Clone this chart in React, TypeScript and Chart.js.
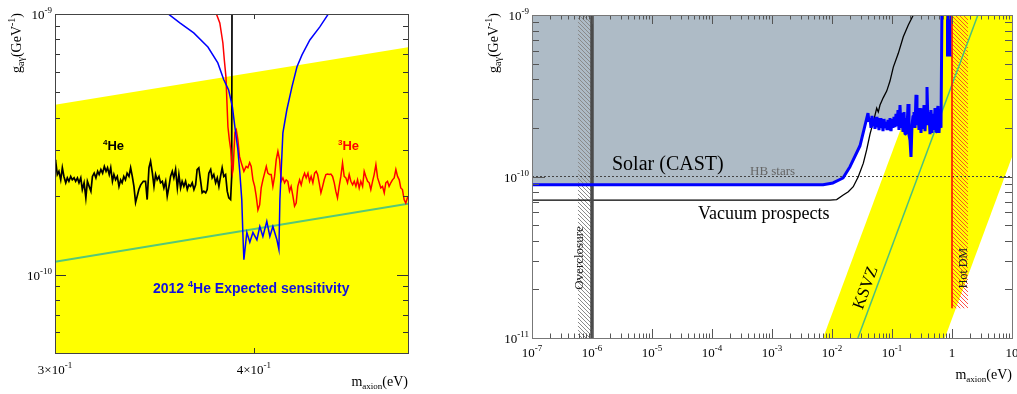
import React, { useEffect, useRef } from "react";
import { Chart, registerables } from "chart.js";

Chart.register(...registerables);

const W = 1017;
const H = 394;
const SERIF = "'Liberation Serif', 'Times New Roman', serif";
const SANS = "'Liberation Sans', Arial, sans-serif";

// ================= LEFT PANEL DATA =================
const leftMassRange = [0.3, 0.5]; // eV
const leftCouplingRange = [5e-11, 1e-9]; // GeV^-1

// [m_axion (eV), g (1e-10 GeV^-1)]
const he4Limit: number[][] = [
  [0.3, 2.76], [0.3003, 2.72], [0.301, 2.42], [0.3017, 2.49], [0.3025, 2.31], [0.3032, 2.57],
  [0.3039, 2.38], [0.3047, 2.25], [0.3054, 2.35], [0.3061, 2.28], [0.3069, 2.38], [0.3076, 2.31],
  [0.3084, 2.35], [0.3091, 2.28], [0.3099, 2.35], [0.3106, 2.25], [0.3114, 2.35], [0.3121, 2.12],
  [0.3129, 2.25], [0.3137, 1.97], [0.3144, 2.28], [0.3152, 2.18], [0.316, 2.09], [0.3167, 2.38],
  [0.3175, 2.45], [0.3183, 2.35], [0.3191, 2.49], [0.3198, 2.42], [0.3206, 2.53], [0.3214, 2.45],
  [0.3222, 2.6], [0.323, 2.49], [0.3237, 2.57], [0.3245, 2.42], [0.3252, 2.57], [0.326, 2.28],
  [0.3267, 2.42], [0.3275, 2.31], [0.3283, 2.38], [0.3291, 2.18], [0.3299, 2.31], [0.3306, 2.25],
  [0.3314, 2.38], [0.3322, 2.31], [0.333, 2.45], [0.3339, 2.38], [0.3347, 2.57], [0.3355, 2.38],
  [0.3363, 2.18], [0.3371, 1.89], [0.3379, 2.0], [0.3387, 2.12], [0.3396, 2.21], [0.3409, 2.28],
  [0.342, 2.28], [0.3428, 1.94], [0.3437, 2.57], [0.3445, 2.72], [0.3454, 2.45], [0.3462, 2.18],
  [0.347, 2.42], [0.3478, 2.31], [0.3487, 2.38], [0.3495, 2.25], [0.3504, 2.28], [0.3512, 2.15],
  [0.3521, 2.28], [0.3529, 2.0], [0.3538, 2.18], [0.3546, 2.38], [0.3555, 2.49], [0.3563, 2.35],
  [0.3572, 2.53], [0.3581, 2.15], [0.3589, 2.42], [0.3598, 2.15], [0.3606, 2.28], [0.3615, 2.18],
  [0.3624, 2.28], [0.3633, 2.12], [0.3641, 2.21], [0.365, 2.18], [0.3659, 2.25], [0.3668, 2.12],
  [0.3677, 2.21], [0.3685, 2.53], [0.3694, 2.57], [0.3704, 2.28], [0.3712, 2.06], [0.3721, 2.09],
  [0.3731, 2.06], [0.3739, 2.12], [0.3748, 2.45], [0.3758, 2.53], [0.3766, 2.35], [0.3775, 2.42],
  [0.3785, 2.25], [0.3794, 2.35], [0.3803, 2.18], [0.3812, 2.38], [0.3821, 2.57], [0.383, 2.38],
  [0.384, 2.42], [0.3849, 2.09], [0.3858, 1.97], [0.3868, 1.94], [0.3874, 2.38], [0.3876, 12],
];

const he3Limit: number[][] = [
  [0.3778, 10.5], [0.3808, 9.24], [0.3825, 7.74], [0.3833, 6.66], [0.3842, 5.74], [0.3847, 4.68],
  [0.3853, 3.69], [0.3861, 3.29], [0.3869, 3.01], [0.3878, 2.45], [0.3882, 2.53], [0.3892, 3.5],
  [0.39, 3.59], [0.3909, 3.29], [0.3918, 2.84], [0.3928, 2.69], [0.3943, 2.49], [0.3956, 2.6],
  [0.3966, 2.57], [0.3976, 2.69], [0.3985, 2.6], [0.3995, 2.31], [0.4005, 2.18], [0.4014, 2.0],
  [0.4024, 1.77], [0.4034, 1.85], [0.4043, 2.15], [0.4053, 2.31], [0.4063, 2.45], [0.4073, 2.6],
  [0.4082, 2.45], [0.4092, 2.42], [0.4102, 2.42], [0.4112, 2.18], [0.4122, 2.38], [0.4132, 2.76],
  [0.4142, 2.97], [0.4152, 2.76], [0.4162, 2.28], [0.4172, 2.35], [0.4182, 2.25], [0.4192, 2.31],
  [0.4202, 2.28], [0.4212, 2.09], [0.4222, 2.18], [0.4233, 2.0], [0.4243, 1.83], [0.4253, 1.88],
  [0.4263, 2.18], [0.4274, 2.31], [0.4284, 2.21], [0.4294, 2.35], [0.4305, 2.45], [0.4315, 2.35],
  [0.4326, 2.45], [0.4336, 2.28], [0.4346, 2.38], [0.4357, 2.25], [0.4368, 2.45], [0.4378, 2.49],
  [0.4387, 2.42], [0.4397, 2.25], [0.4408, 2.06], [0.4419, 2.18], [0.4429, 2.31], [0.444, 2.42],
  [0.445, 2.43], [0.4461, 2.42], [0.4472, 2.43], [0.4483, 2.38], [0.4494, 2.25], [0.4504, 2.09],
  [0.4515, 1.97], [0.4526, 2.18], [0.4537, 2.38], [0.4548, 2.68], [0.4559, 2.38], [0.457, 2.35],
  [0.4581, 2.25], [0.4592, 2.42], [0.4603, 2.28], [0.4615, 2.21], [0.4626, 2.28], [0.4637, 2.18],
  [0.4648, 2.31], [0.4659, 2.15], [0.467, 2.28], [0.4682, 2.18], [0.4693, 2.49], [0.4704, 2.38],
  [0.4716, 2.28], [0.4727, 2.25], [0.4738, 2.12], [0.475, 2.28], [0.4761, 2.42], [0.4773, 2.64],
  [0.4785, 2.35], [0.4796, 2.25], [0.4807, 2.15], [0.4819, 2.18], [0.4831, 2.06], [0.4842, 2.25],
  [0.4854, 2.28], [0.4865, 2.18], [0.4877, 2.25], [0.4889, 2.31], [0.4901, 2.35], [0.4913, 2.53],
  [0.4925, 2.38], [0.4937, 2.31], [0.4948, 2.15], [0.496, 2.12], [0.4972, 1.94], [0.4984, 1.88],
  [0.4996, 1.97], [0.5, 1.99],
];

const expected2012He4: number[][] = [
  [0.352, 10.2], [0.3594, 9.24], [0.3667, 8.46], [0.3743, 7.47], [0.3797, 6.49], [0.383, 5.59],
  [0.3857, 5.11], [0.3878, 4.4], [0.3892, 3.69], [0.3909, 3.01], [0.392, 2.46], [0.3931, 1.94],
  [0.3937, 1.45], [0.3943, 1.14], [0.396, 1.45], [0.3977, 1.33], [0.3995, 1.45], [0.4018, 1.36],
  [0.4035, 1.53], [0.4053, 1.4], [0.4076, 1.6], [0.4094, 1.4], [0.4112, 1.53], [0.4136, 1.36],
  [0.4148, 1.25], [0.4154, 1.94], [0.4172, 3.5], [0.4196, 4.29], [0.4227, 5.25], [0.4258, 6.27],
  [0.4289, 6.97], [0.4338, 7.95], [0.4401, 8.92], [0.4465, 10.2],
];

const leftKsvzLine: number[][] = [[0.3, 1.12e-10], [0.5, 1.87e-10]];
const leftModelBandTop: number[][] = [[0.3, 4.48e-10], [0.5, 7.45e-10]];

const leftYMajorTicks = [1e-10, 1e-9];
const leftYMinorTicks = [6e-11, 7e-11, 8e-11, 9e-11, 2e-10, 3e-10, 4e-10, 5e-10, 6e-10, 7e-10, 8e-10, 9e-10];
const leftXMajorTicks = [0.3, 0.4, 0.5];
const leftXTickLabels = [
  { v: 0.3, base: "3×10", sup: "-1" },
  { v: 0.4, base: "4×10", sup: "-1" },
];
const leftYTickLabels = [
  { v: 1e-9, base: "10", sup: "-9" },
  { v: 1e-10, base: "10", sup: "-10" },
];

// ================= RIGHT PANEL DATA =================
const rightMassRange = [1e-7, 10];
const rightCouplingRange = [1e-11, 1e-9];

// CAST limit: [m_axion (eV), g (1e-10 GeV^-1)]
const castLimit: number[][] = [
  [1e-7, 0.89], [0.00708, 0.89], [0.0104, 0.912], [0.01525, 0.979], [0.01995, 1.15], [0.0293, 1.55],
  [0.03981, 2.47], [0.04137, 2.18], [0.04299, 2.3], [0.04467, 2.0], [0.04642, 2.37], [0.04824, 2.05],
  [0.05012, 2.27], [0.05208, 1.97], [0.05412, 2.34], [0.05623, 2.02], [0.05843, 2.24], [0.06072, 1.94],
  [0.0631, 2.3], [0.06556, 2.0], [0.06813, 2.21], [0.07079, 1.91], [0.07356, 2.27], [0.07644, 2.0],
  [0.07943, 2.18], [0.08254, 1.94], [0.08577, 2.24], [0.08913, 1.97], [0.09261, 2.3], [0.09624, 1.91],
  [0.1, 2.27], [0.1039, 2.0], [0.108, 2.34], [0.1122, 2.02], [0.1166, 2.44], [0.1212, 2.05],
  [0.1259, 2.58], [0.1308, 1.94], [0.1359, 2.77], [0.1413, 2.0], [0.1468, 2.47], [0.1525, 1.89],
  [0.1585, 2.51], [0.1647, 1.83], [0.1711, 2.3], [0.1778, 1.91], [0.1848, 2.81], [0.192, 1.81],
  [0.1995, 1.68], [0.2073, 1.32], [0.2154, 2.08], [0.2239, 2.37], [0.2326, 2.51], [0.2417, 2.0],
  [0.2512, 3.2], [0.261, 2.08], [0.2712, 2.51], [0.2818, 1.94], [0.2929, 2.65], [0.3043, 1.86],
  [0.3162, 2.4], [0.3286, 1.97], [0.3415, 2.77], [0.3548, 1.91], [0.3687, 2.51], [0.3831, 3.58],
  [0.3981, 2.08], [0.4137, 2.51], [0.4299, 1.83], [0.4467, 2.58], [0.4642, 1.86], [0.4824, 2.44],
  [0.5012, 1.94], [0.5208, 2.65], [0.5412, 1.89], [0.5623, 2.51], [0.5843, 2.73], [0.6072, 1.86],
  [0.631, 2.4], [0.6557, 2.0], [0.6813, 12],
];
// [m_axion (eV), g (GeV^-1)]
const castHighMassBlock: number[][] = [[0.794, 5.57e-10], [0.98, 5.57e-10]];

const vacuumProspects: number[][] = [
  [1e-7, 7.15e-11], [0.00926, 7.15e-11], [0.01197, 7.2e-11], [0.0154, 7.68e-11], [0.0187, 8.05e-11],
  [0.0226, 8.65e-11], [0.0274, 9.97e-11], [0.0333, 1.21e-10], [0.0378, 1.46e-10], [0.043, 1.83e-10],
  [0.0488, 2.18e-10], [0.0521, 2.4e-10], [0.0556, 2.65e-10], [0.0591, 2.51e-10], [0.0631, 2.77e-10],
  [0.0716, 3.08e-10], [0.0816, 3.38e-10], [0.0926, 3.9e-10], [0.1052, 4.76e-10], [0.1274, 5.79e-10],
  [0.1542, 7.34e-10], [0.187, 8.67e-10], [0.2265, 1.0e-9], [0.25, 1.1e-9],
];

const hbStars: number[][] = [[1e-7, 1e-10], [10, 1e-10]];
const ksvzLine: number[][] = [[0.027, 1e-11], [2.7, 1e-9]];
const ksvzBandUpper: number[][] = [[0.0071, 1e-11], [10, 1.41e-8]];
const ksvzBandLower: number[][] = [[0.0071, 9.3e-14], [10, 1.32e-10]];
const overclosureMass = [5.8e-7, 1e-6];
const hotDmMass = [1, 1.85];
const hotDmFloor = 1.53e-11;
const aboveTop = 1.2e-9;

const rightXTickLabels = [
  { v: 1e-7, base: "10", sup: "-7" },
  { v: 1e-6, base: "10", sup: "-6" },
  { v: 1e-5, base: "10", sup: "-5" },
  { v: 1e-4, base: "10", sup: "-4" },
  { v: 1e-3, base: "10", sup: "-3" },
  { v: 1e-2, base: "10", sup: "-2" },
  { v: 1e-1, base: "10", sup: "-1" },
  { v: 1, base: "1", sup: "" },
  { v: 10, base: "10", sup: "" },
];
const rightYTickLabels = [
  { v: 1e-9, base: "10", sup: "-9" },
  { v: 1e-10, base: "10", sup: "-10" },
  { v: 1e-11, base: "10", sup: "-11" },
];

// ================= HELPERS =================
type Part = { t: string; size: number; dy?: number; bold?: boolean; color?: string };

function fontOf(p: Part, family: string) {
  return `${p.bold ? "bold " : ""}${p.size}px ${family}`;
}
function partsWidth(ctx: CanvasRenderingContext2D, parts: Part[], family: string) {
  let w = 0;
  for (const p of parts) {
    ctx.font = fontOf(p, family);
    w += ctx.measureText(p.t).width;
  }
  return w;
}
function drawParts(ctx: CanvasRenderingContext2D, parts: Part[], x: number, y: number, align: string, family: string, color: string) {
  const w = partsWidth(ctx, parts, family);
  let cx = align === "left" ? x : align === "right" ? x - w : x - w / 2;
  ctx.textAlign = "left";
  ctx.textBaseline = "alphabetic";
  for (const p of parts) {
    ctx.font = fontOf(p, family);
    ctx.fillStyle = p.color || color;
    ctx.fillText(p.t, cx, y + (p.dy || 0));
    cx += ctx.measureText(p.t).width;
  }
}
function supParts(base: string, sup: string): Part[] {
  const out: Part[] = [{ t: base, size: 13 }];
  if (sup) out.push({ t: sup, size: 9, dy: -6 });
  return out;
}
const yTitleParts: Part[] = [
  { t: "g", size: 14 },
  { t: "aγ", size: 10, dy: 3 },
  { t: "(GeV", size: 14 },
  { t: "-1", size: 10, dy: -6 },
  { t: ")", size: 14 },
];
const xTitleParts: Part[] = [
  { t: "m", size: 14 },
  { t: "axion", size: 9, dy: 3 },
  { t: "(eV)", size: 14 },
];

function drawYTitle(ctx: CanvasRenderingContext2D, baseX: number, topY: number) {
  const w = partsWidth(ctx, yTitleParts, SERIF);
  ctx.save();
  ctx.translate(baseX, topY + w);
  ctx.rotate(-Math.PI / 2);
  drawParts(ctx, yTitleParts, 0, 0, "left", SERIF, "#000");
  ctx.restore();
}

function crisp(v: number) {
  return Math.round(v) + 0.5;
}

function drawFrameAndTicks(chart: any, o: any) {
  const ctx: CanvasRenderingContext2D = chart.ctx;
  const a = chart.chartArea;
  const xs = chart.scales.x;
  const ys = chart.scales.y;
  ctx.save();
  ctx.lineWidth = 1;
  ctx.strokeStyle = o.tickColor;
  ctx.beginPath();
  const yTick = (v: number, len: number) => {
    const y = crisp(ys.getPixelForValue(v));
    ctx.moveTo(a.left, y);
    ctx.lineTo(a.left + len, y);
    ctx.moveTo(a.right, y);
    ctx.lineTo(a.right - len, y);
  };
  const xTick = (v: number, len: number) => {
    const x = crisp(xs.getPixelForValue(v));
    ctx.moveTo(x, a.bottom);
    ctx.lineTo(x, a.bottom - len);
    ctx.moveTo(x, a.top);
    ctx.lineTo(x, a.top + len);
  };
  o.yMajor.forEach((v: number) => yTick(v, o.yMajorLen));
  o.yMinor.forEach((v: number) => yTick(v, o.yMinorLen));
  o.xMajor.forEach((v: number) => xTick(v, o.xMajorLen));
  o.xMinor.forEach((v: number) => xTick(v, o.xMinorLen));
  ctx.stroke();
  ctx.strokeStyle = o.frameColor;
  ctx.strokeRect(crisp(a.left), crisp(a.top), Math.round(a.right) - Math.round(a.left), Math.round(a.bottom) - Math.round(a.top));
  for (const l of o.xLabels) {
    drawParts(ctx, supParts(l.base, l.sup), xs.getPixelForValue(l.v), a.bottom + o.xLabelGap, "center", SERIF, "#000");
  }
  for (const l of o.yLabels) {
    drawParts(ctx, supParts(l.base, l.sup), a.left - 3, ys.getPixelForValue(l.v) + 5, "right", SERIF, "#000");
  }
  drawParts(ctx, xTitleParts, a.right, a.bottom + o.xTitleGap, "right", SERIF, "#000");
  drawYTitle(ctx, o.yTitleX, 13);
  ctx.restore();
}

function hatchPattern(color: string, s: number, lw: number) {
  const c = document.createElement("canvas");
  c.width = s;
  c.height = s;
  const g = c.getContext("2d")!;
  g.strokeStyle = color;
  g.lineWidth = lw;
  g.beginPath();
  g.moveTo(-1, -1);
  g.lineTo(s + 1, s + 1);
  g.moveTo(s - 1, -1);
  g.lineTo(s + 1, 1);
  g.moveTo(-1, s - 1);
  g.lineTo(1, s + 1);
  g.stroke();
  return g.createPattern(c, "repeat");
}

const xy = (arr: number[][], unit = 1) => arr.map(([m, g]) => ({ x: m, y: g * unit }));

function line(data: any[], color: string, width: number, extra: any = {}) {
  return {
    data,
    borderColor: color,
    borderWidth: width,
    pointRadius: 0,
    pointHoverRadius: 0,
    tension: 0,
    fill: false,
    clip: 0,
    ...extra,
  };
}

function baseOptions(padding: any, xr: number[], yr: number[]) {
  return {
    responsive: false,
    animation: false,
    devicePixelRatio: 1,
    events: [],
    layout: { padding },
    plugins: { legend: { display: false }, tooltip: { enabled: false } },
    scales: {
      x: { type: "logarithmic", min: xr[0], max: xr[1], display: false },
      y: { type: "logarithmic", min: yr[0], max: yr[1], display: false },
    },
  };
}

function logMinor(fromExp: number, toExp: number) {
  const out: number[] = [];
  for (let e = fromExp; e < toExp; e++) for (let k = 2; k <= 9; k++) out.push(k * Math.pow(10, e));
  return out;
}
function logMajor(fromExp: number, toExp: number) {
  const out: number[] = [];
  for (let e = fromExp; e <= toExp; e++) out.push(Math.pow(10, e));
  return out;
}

// ================= CHART CONFIGS =================
function leftConfig(): any {
  const decor = {
    id: "leftDecor",
    afterDraw(chart: any) {
      drawFrameAndTicks(chart, {
        tickColor: "#333",
        frameColor: "#444",
        yMajor: leftYMajorTicks,
        yMinor: leftYMinorTicks,
        xMajor: leftXMajorTicks,
        xMinor: [],
        yMajorLen: 11,
        yMinorLen: 5,
        xMajorLen: 5,
        xMinorLen: 3,
        xLabels: leftXTickLabels,
        yLabels: leftYTickLabels,
        xLabelGap: 21,
        xTitleGap: 33,
        yTitleX: 21,
      });
      const ctx: CanvasRenderingContext2D = chart.ctx;
      ctx.save();
      drawParts(ctx, [{ t: "4", size: 8, bold: true, dy: -5 }, { t: "He", size: 13, bold: true }], 103, 150, "left", SANS, "#000");
      drawParts(ctx, [{ t: "3", size: 8, bold: true, dy: -5 }, { t: "He", size: 13, bold: true }], 338, 150, "left", SANS, "#ff0000");
      drawParts(
        ctx,
        [
          { t: "2012 ", size: 14, bold: true },
          { t: "4", size: 9, bold: true, dy: -6 },
          { t: "He Expected sensitivity", size: 14, bold: true },
        ],
        153,
        293,
        "left",
        SANS,
        "#1010e0"
      );
      ctx.restore();
    },
  };
  return {
    type: "line",
    data: {
      datasets: [
        line(xy(expected2012He4, 1e-10), "#0000ff", 1.5),
        line(xy(he3Limit, 1e-10), "#ff0000", 1.5),
        line(xy(he4Limit, 1e-10), "#000000", 1.7),
        line(xy(leftKsvzLine), "#55c878", 2),
        line(xy(leftModelBandTop), "rgba(0,0,0,0)", 0, { fill: "start", backgroundColor: "#ffff00" }),
      ],
    },
    options: baseOptions({ left: 55, top: 14, right: W - 408, bottom: H - 353 }, leftMassRange, leftCouplingRange),
    plugins: [decor],
  };
}

function rightConfig(): any {
  const overHatch = hatchPattern("#8a8a8a", 4, 1);
  const hotHatch = hatchPattern("rgba(255,50,40,0.85)", 4, 1);
  const decor = {
    id: "rightDecor",
    afterDraw(chart: any) {
      drawFrameAndTicks(chart, {
        tickColor: "#555",
        frameColor: "#777",
        yMajor: logMajor(-11, -9),
        yMinor: logMinor(-11, -9),
        xMajor: logMajor(-7, 1),
        xMinor: logMinor(-7, 1),
        yMajorLen: 13,
        yMinorLen: 7,
        xMajorLen: 9,
        xMinorLen: 4.5,
        xLabels: rightXTickLabels,
        yLabels: rightYTickLabels,
        xLabelGap: 19,
        xTitleGap: 41,
        yTitleX: 498,
      });
      const ctx: CanvasRenderingContext2D = chart.ctx;
      ctx.save();
      ctx.textAlign = "left";
      ctx.textBaseline = "alphabetic";
      ctx.fillStyle = "#000";
      ctx.font = `20px ${SERIF}`;
      ctx.fillText("Solar (CAST)", 612, 170);
      ctx.font = `18px ${SERIF}`;
      ctx.fillText("Vacuum prospects", 698, 219);
      ctx.fillStyle = "#666";
      ctx.font = `13px ${SERIF}`;
      ctx.fillText("HB stars", 750, 175);
      const rotText = (t: string, cx: number, cy: number, ang: number, font: string, color: string) => {
        ctx.save();
        ctx.translate(cx, cy);
        ctx.rotate(ang);
        ctx.font = font;
        ctx.fillStyle = color;
        ctx.textAlign = "center";
        ctx.textBaseline = "middle";
        ctx.fillText(t, 0, 0);
        ctx.restore();
      };
      rotText("Overclosure", 580, 258, -Math.PI / 2, `13px ${SERIF}`, "#222");
      rotText("KSVZ", 866, 288, -Math.atan2(161.5, 60), `17px ${SERIF}`, "#000");
      rotText("Hot DM", 964, 268, -Math.PI / 2, `12px ${SERIF}`, "#222");
      ctx.restore();
    },
  };
  const clear = "rgba(0,0,0,0)";
  const cast = xy(castLimit, 1e-10);
  return {
    type: "line",
    data: {
      datasets: [
        line(xy(castHighMassBlock), "#0000ff", 1, { fill: "end", backgroundColor: "#0000ff" }),
        line(cast, "#0000ff", 3, { borderJoinStyle: "bevel" }),
        line(xy([[hotDmMass[0], hotDmFloor], [hotDmMass[0], rightCouplingRange[1]]]), "#ff0000", 1.5),
        line(xy([[overclosureMass[1], rightCouplingRange[0]], [overclosureMass[1], rightCouplingRange[1]]]), "#4a4a4a", 3.5),
        line(xy(vacuumProspects), "#000000", 1.3),
        line(xy(hbStars), "#444", 1, { borderDash: [2, 2] }),
        line(xy(ksvzLine), "#4cc07c", 1.5),
        line(xy([[hotDmMass[0], aboveTop], [hotDmMass[1], aboveTop]]), clear, 0, { fill: { value: hotDmFloor }, backgroundColor: hotHatch }),
        line(xy([[overclosureMass[0], aboveTop], [overclosureMass[1], aboveTop]]), clear, 0, { fill: "start", backgroundColor: overHatch }),
        line(cast, clear, 0, { fill: "end", backgroundColor: "#aebbc6" }),
        line(xy(ksvzBandUpper), clear, 0, { fill: "+1", backgroundColor: "#ffff00" }),
        line(xy(ksvzBandLower), clear, 0),
      ],
    },
    options: baseOptions({ left: 532, top: 15, right: W - 1012, bottom: H - 338 }, rightMassRange, rightCouplingRange),
    plugins: [decor],
  };
}

export default function App() {
  const leftRef = useRef<HTMLCanvasElement>(null);
  const rightRef = useRef<HTMLCanvasElement>(null);
  useEffect(() => {
    const c1 = new Chart(leftRef.current as HTMLCanvasElement, leftConfig());
    const c2 = new Chart(rightRef.current as HTMLCanvasElement, rightConfig());
    return () => {
      c1.destroy();
      c2.destroy();
    };
  }, []);
  const cs: any = { position: "absolute", left: 0, top: 0, width: W, height: H };
  return (
    <div style={{ position: "fixed", left: 0, top: 0, width: W, height: H, background: "#fff", overflow: "hidden" }}>
      <canvas ref={leftRef} width={W} height={H} style={cs} />
      <canvas ref={rightRef} width={W} height={H} style={cs} />
    </div>
  );
}
